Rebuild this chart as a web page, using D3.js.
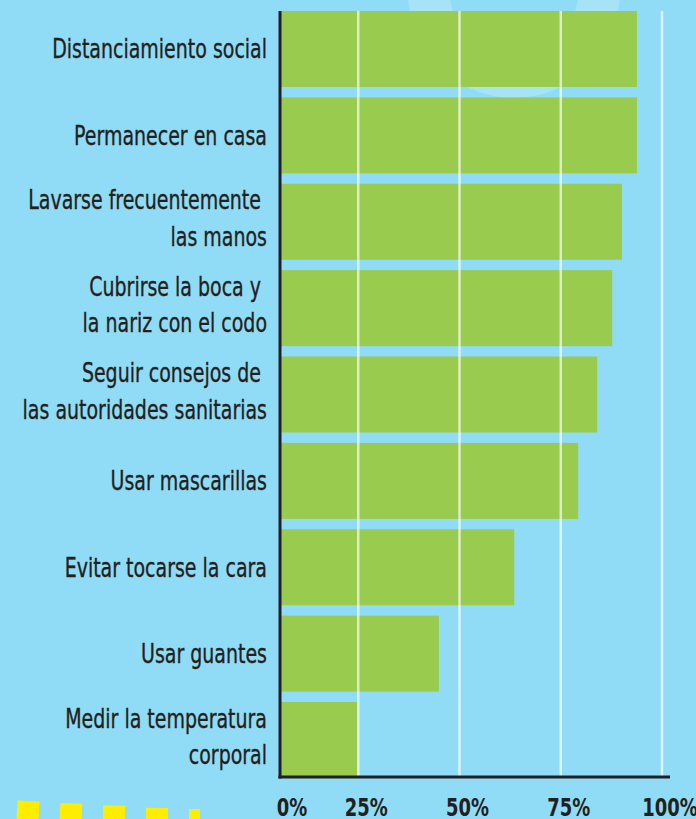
<!DOCTYPE html>
<html>
<head>
<meta charset="utf-8">
<script src="https://cdn.jsdelivr.net/npm/d3@7"></script>
<style>
  html, body { margin: 0; padding: 0; background: #90dcf6; }
  svg { display: block; }
  text { white-space: pre; }
</style>
</head>
<body>
<svg id="chart" width="696" height="819"></svg>
<script>
// ---- data ----
const categories = [
  ["Distanciamiento social"],
  ["Permanecer en casa"],
  ["Lavarse frecuentemente ", "las manos"],
  ["Cubrirse la boca y ", "la nariz con el codo"],
  ["Seguir consejos de ", "las autoridades sanitarias"],
  ["Usar mascarillas"],
  ["Evitar tocarse la cara"],
  ["Usar guantes"],
  ["Medir la temperatura", "corporal"]
];
const values = [93.8, 93.8, 90.1, 87.7, 84.0, 79.3, 63.5, 44.9, 24.8];
const tickValues = [0, 25, 50, 75, 100];
const tickLabels = ["0%", "25%", "50%", "75%", "100%"];

// ---- layout ----
const W = 696, H = 819;
const axisX = 280, axisY = 777;
const FONT = "'Liberation Sans Narrow', 'Arial Narrow', 'DejaVu Sans Condensed', 'DejaVu Sans', sans-serif";
const svg = d3.select("#chart");

const x = d3.scaleLinear().domain([0, 100]).range([257, 662]);
const y = d3.scaleBand().domain(d3.range(categories.length)).range([11, 778]).paddingInner(0.12).paddingOuter(0);

// background
svg.append("rect").attr("width", W).attr("height", H).attr("fill", "#90dcf6");

// decorative ring at top
svg.append("circle")
  .attr("cx", 514).attr("cy", -8).attr("r", 85)
  .attr("fill", "none").attr("stroke", "#ffffff").attr("stroke-opacity", 0.2).attr("stroke-width", 42);

// bars
svg.append("g").selectAll("rect").data(values).join("rect")
  .attr("x", axisX)
  .attr("y", (d, i) => y(i))
  .attr("width", d => x(d) - axisX)
  .attr("height", y.bandwidth())
  .attr("fill", "#99cb4f");

// gridlines
svg.append("g").selectAll("line").data(tickValues.filter(t => t > 0)).join("line")
  .attr("x1", d => x(d)).attr("x2", d => x(d))
  .attr("y1", 11).attr("y2", axisY)
  .attr("stroke", "#ffffff").attr("stroke-opacity", 0.65).attr("stroke-width", 2.5);

// axes lines
svg.append("line").attr("x1", axisX).attr("x2", axisX).attr("y1", 11).attr("y2", axisY + 1.5)
  .attr("stroke", "#231f20").attr("stroke-width", 3);
svg.append("line").attr("x1", axisX - 1.5).attr("x2", 670).attr("y1", axisY).attr("y2", axisY)
  .attr("stroke", "#231f20").attr("stroke-width", 3);

// measure helper
function measure(str, size, weight) {
  const t = svg.append("text").attr("font-family", FONT).attr("font-size", size)
    .attr("font-weight", weight).attr("xml:space", "preserve").text(str);
  const w = t.node().getComputedTextLength();
  t.remove();
  return w;
}

// category labels (condensed horizontally to match the narrow typeface)
const labelSize = 27;
const kLabel = 215 / measure("Distanciamiento social", labelSize, "normal");
const lineH = 36.5;
const labelG = svg.append("g")
  .attr("font-family", FONT)
  .attr("font-size", labelSize).attr("fill", "#231f20")
  .attr("stroke", "#231f20").attr("stroke-width", 0.35)
  .attr("text-anchor", "end");
categories.forEach((lines, i) => {
  const c = y(i) + y.bandwidth() / 2;
  const n = lines.length;
  const t = labelG.append("text").attr("xml:space", "preserve")
    .attr("transform", `translate(267,0) scale(${kLabel},1)`);
  lines.forEach((s, j) => {
    t.append("tspan")
      .attr("x", 0)
      .attr("y", c + 9.5 - 3.5 * (n - 1) + (j - (n - 1) / 2) * lineH)
      .text(s);
  });
});

// tick labels
const tickSize = 24;
const kTick = 43 / measure("25%", tickSize, "bold");
svg.append("g")
  .attr("font-family", FONT)
  .attr("font-size", tickSize).attr("font-weight", "bold").attr("fill", "#231f20").attr("text-anchor", "middle")
  .selectAll("text").data(tickValues).join("text")
  .attr("transform", d => `translate(${Math.max(x(d) + 8, axisX + 12)},816) scale(${kTick},1)`)
  .text((d, i) => tickLabels[i]);

// decorative yellow dashes bottom-left
svg.append("g").selectAll("rect").data(d3.range(5)).join("rect")
  .attr("x", i => 17 + i * 43)
  .attr("y", i => 801 + Math.min(i, 3) * 2.3 + (i === 4 ? 1 : 0))
  .attr("width", i => i === 4 ? 11 : 22)
  .attr("height", 20)
  .attr("fill", "#ffed00")
  .attr("transform", i => `rotate(${3 - i * 0.8}, ${28 + i * 43}, 810)`);
</script>
</body>
</html>
